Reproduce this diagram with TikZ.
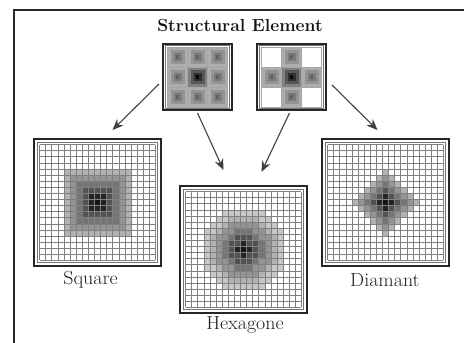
\documentclass[tikz,border=0pt]{standalone}
\usetikzlibrary{calc,arrows.meta}
\tikzset{
  bigbox/.style={draw=black!85, line width=1.6pt, minimum width=127pt, minimum height=127pt, inner sep=0pt, outer sep=0pt},
  sebox/.style={draw=black!85, line width=1.4pt, minimum width=69pt, minimum height=66pt, inner sep=0pt, outer sep=0pt},
  innerline/.style={draw=black!55, line width=0.6pt},
  gridline/.style={draw=black!50, line width=0.5pt},
  lbl/.style={font=\fontsize{19}{22}\selectfont, text=black!88, inner sep=0pt},
  ttl/.style={font=\fontsize{17.5}{20}\selectfont\bfseries, text=black!92, inner sep=0pt},
  arr/.style={-{Stealth[length=11pt,width=9pt]}, line width=1.1pt, draw=black!75},
}
\newcommand\biggrid[4]{%
  \foreach \i in {0,...,18}{%
    \foreach \j in {0,...,18}{%
      \pgfmathtruncatemacro\ax{abs(\i-9)}%
      \pgfmathtruncatemacro\ay{abs(\j-9)}%
      \ifcase#3\or
        \pgfmathtruncatemacro\dd{max(\ax,\ay)}%
      \or
        \pgfmathtruncatemacro\dd{max(max(\ax,\ay),ceil((\ax+\ay)*2/3))}%
      \or
        \pgfmathtruncatemacro\dd{\ax+\ay}%
      \fi
      \ifnum\dd<#4
        \pgfmathtruncatemacro\lev{{92,86,68,54,42,30,22}[\dd]}%
        \fill[black!\lev] (#1+\i*6.1,#2+\j*6.1) rectangle ++(6.1,6.1);
      \fi
    }%
  }%
  \foreach \k in {0,...,19}{%
    \draw[gridline] (#1+\k*6.1,#2) -- ++(0,115.9);
    \draw[gridline] (#1,#2+\k*6.1) -- ++(115.9,0);
  }%
}
% structuring element cell: x, y, size, type (0 white, 1 normal, 2 centre)
\newcommand\secell[4]{%
  \ifcase#4
  \or
    \fill[black!32] (#1,#2) rectangle ++(#3,#3);
    \fill[black!42] (#1+0.15*#3,#2+0.15*#3) rectangle ++(0.7*#3,0.7*#3);
    \fill[black!52] (#1+0.3*#3,#2+0.3*#3) rectangle ++(0.4*#3,0.4*#3);
    \fill[black!62] (#1+0.42*#3,#2+0.42*#3) rectangle ++(0.16*#3,0.16*#3);
  \or
    \fill[black!50] (#1,#2) rectangle ++(#3,#3);
    \fill[black!66] (#1+0.15*#3,#2+0.15*#3) rectangle ++(0.7*#3,0.7*#3);
    \fill[black!82] (#1+0.3*#3,#2+0.3*#3) rectangle ++(0.4*#3,0.4*#3);
    \fill[black!97] (#1+0.42*#3,#2+0.42*#3) rectangle ++(0.16*#3,0.16*#3);
  \fi
  \draw[draw=black!35, line width=0.4pt] (#1,#2) rectangle ++(#3,#3);
}
\begin{document}
\begin{tikzpicture}[x=1pt,y=-1pt]
\path[use as bounding box] (0,0) rectangle (464,343);
\fill[white] (0,0) rectangle (464,343);
% outer frame
\draw[line width=2pt, black!85] (14,343) -- (14,10) -- (464,10);

% title
\node[ttl] (title) at (240,25) {Structural Element};

% structuring elements
\node[sebox] (seL) at (197.5,77) {};
\node[sebox] (seR) at (291.5,77) {};
\foreach \r in {0,1,2}{\foreach \c in {0,1,2}{%
  \pgfmathtruncatemacro\tp{(\r==1 && \c==1) ? 2 : 1}%
  \secell{167.5+\c*20}{47+\r*20}{20}{\tp}%
  \pgfmathtruncatemacro\tq{(\r==1 && \c==1) ? 2 : ((\r==1 || \c==1) ? 1 : 0)}%
  \secell{261.5+\c*20}{47+\r*20}{20}{\tq}%
}}
\draw[innerline] (165.5,45.5) rectangle (229.5,108.5);
\draw[innerline] (259.5,45.5) rectangle (323.5,108.5);

% result images
\node[bigbox] (sq) at (97.5,202.5) {};
\node[bigbox] (hex) at (243.5,249.5) {};
\node[bigbox] (dia) at (385.5,202.5) {};
\biggrid{39.5}{144.5}{1}{6}
\biggrid{185.5}{191.5}{2}{7}
\biggrid{327.5}{144.5}{3}{6}
\draw[innerline] (37.5,142.5) rectangle (157.5,262.5);
\draw[innerline] (183.5,189.5) rectangle (303.5,309.5);
\draw[innerline] (325.5,142.5) rectangle (445.5,262.5);

% labels
\node[lbl] (lsq) at (90.5,280) {\scalebox{1.05}[1]{Square}};
\node[lbl] (lhex) at (245,325) {\scalebox{1.05}[1]{Hexagone}};
\node[lbl] (ldia) at (385,280) {\scalebox{1.05}[1]{Diamant}};

% arrows
\draw[arr] ($(seL.west)+(-4,7)$) -- ($(sq.north)+(15,-9)$);
\draw[arr] ($(seL.south)+(0,3)$) -- ($(hex.north)+(-20,-16)$);
\draw[arr] ($(seR.south)+(-2,3)$) -- ($(hex.north)+(18,-14)$);
\draw[arr] ($(seR.east)+(6,8)$) -- ($(dia.north)+(-8,-9)$);
\end{tikzpicture}
\end{document}
